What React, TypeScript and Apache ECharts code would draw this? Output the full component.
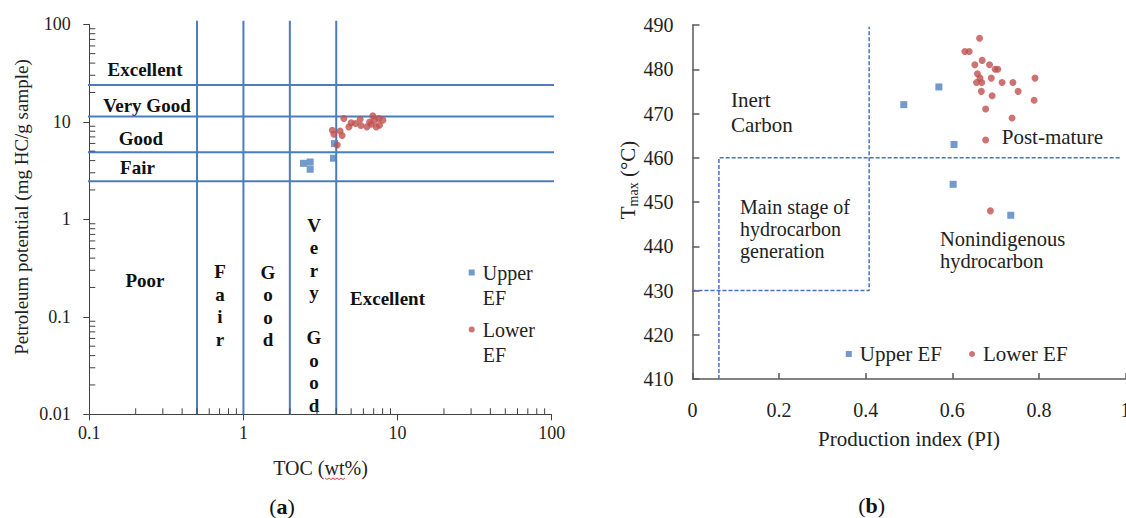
import React, { useEffect, useRef } from "react";
import * as echarts from "echarts";

// ---------- Panel (a): TOC vs petroleum potential ----------
const upperA: [number, number][] = [
  [2.45, 3.75], [2.71, 3.87], [2.71, 3.26], [3.84, 4.23], [3.9, 5.98],
];
const lowerA: [number, number][] = [
  [3.77, 8.2], [3.86, 7.46], [4.06, 5.79], [4.24, 8.05], [4.37, 7.22],
  [4.48, 10.8], [4.83, 8.87], [5.0, 9.75], [5.34, 9.6], [5.72, 10.6],
  [5.78, 9.16], [6.32, 8.87], [6.58, 9.97], [6.91, 11.5], [7.09, 10.4],
  [7.27, 8.87], [7.56, 10.8], [7.64, 9.23], [8.03, 10.4], [6.75, 9.45],
];
const potentialLevels = [2.45, 4.87, 11.3, 23.8];
const tocLevels = [0.5, 1, 2, 4];
const tocDecades = [0.1, 1, 10];
const potDecades = [0.01, 0.1, 1, 10];
const minorMultipliers = [2, 3, 4, 5, 6, 7, 8, 9];

// ---------- Panel (b): PI vs Tmax ----------
const upperB: [number, number][] = [
  [0.488, 472], [0.569, 476], [0.604, 463], [0.602, 454], [0.735, 447],
];
const lowerB: [number, number][] = [
  [0.663, 487], [0.629, 484], [0.639, 484], [0.669, 482], [0.652, 481],
  [0.686, 481], [0.699, 480], [0.705, 480], [0.658, 479], [0.664, 478],
  [0.69, 478], [0.791, 478], [0.656, 477], [0.668, 477], [0.715, 477],
  [0.74, 477], [0.667, 475], [0.752, 475], [0.692, 474], [0.789, 473],
  [0.677, 471], [0.738, 469], [0.677, 464], [0.688, 448],
];
const mainStageBox: [number, number][] = [[0, 430], [0.408, 430], [0.408, 489.6]];
const matureLine: [number, number][] = [[0.061, 410], [0.061, 460], [0.99, 460]];

const SERIF = "'Liberation Serif', 'Times New Roman', serif";
const BLUE = "#4f81bd";
const RED = "#c0504d";
const LINE_BLUE = "#4a7ebb";
const DASH_BLUE = "#4472c4";

const squareIcon = "path://M0,0L6,0L6,6L0,6Z M0,31L6,31L6,31.001L0,31.001Z";
const circleIcon = "path://M3,0A3,3,0,1,1,3,6A3,3,0,1,1,3,0Z M0,31L6,31L6,31.001L0,31.001Z";

function buildOption(): any {
  const xMinor: number[] = [];
  tocDecades.forEach((d) => minorMultipliers.forEach((m) => xMinor.push(d * m)));
  const yMinor: number[] = [];
  potDecades.forEach((d) => minorMultipliers.forEach((m) => yMinor.push(d * m)));

  const boldText = (x: number, y: number, text: string, lineHeight = 22.5) => ({
    type: "text",
    x,
    y,
    style: {
      text,
      fontFamily: SERIF,
      fontWeight: "bold",
      fontSize: 19,
      lineHeight,
      fill: "#111",
      align: "center",
      verticalAlign: "middle",
    },
  });
  const plainText = (x: number, y: number, text: string, lineHeight = 22, fontSize = 21) => ({
    type: "text",
    x,
    y,
    style: {
      text,
      fontFamily: SERIF,
      fontSize,
      lineHeight,
      fill: "#222",
      align: "left",
      verticalAlign: "middle",
    },
  });

  const series: any[] = [];
  potentialLevels.forEach((v) =>
    series.push({
      type: "line",
      xAxisIndex: 0,
      yAxisIndex: 0,
      data: [[0.098, v], [131, v]],
      symbol: "none",
      clip: false,
      silent: true,
      lineStyle: { color: LINE_BLUE, width: 2 },
      z: 1,
    })
  );
  tocLevels.forEach((v) =>
    series.push({
      type: "line",
      xAxisIndex: 0,
      yAxisIndex: 0,
      data: [[v, 0.01], [v, 109]],
      symbol: "none",
      clip: false,
      silent: true,
      lineStyle: { color: LINE_BLUE, width: 2 },
      z: 1,
    })
  );
  series.push({
    type: "custom",
    xAxisIndex: 0,
    yAxisIndex: 0,
    clip: false,
    silent: true,
    data: xMinor.map((v) => [v, 0.01]),
    renderItem: (_p: any, api: any) => {
      const p = api.coord([api.value(0), api.value(1)]);
      return {
        type: "line",
        shape: { x1: p[0], y1: p[1], x2: p[0], y2: p[1] - 6 },
        style: { stroke: "#404040", lineWidth: 1 },
      };
    },
  });
  series.push({
    type: "custom",
    xAxisIndex: 0,
    yAxisIndex: 0,
    clip: false,
    silent: true,
    data: yMinor.map((v) => [0.1, v]),
    renderItem: (_p: any, api: any) => {
      const p = api.coord([api.value(0), api.value(1)]);
      return {
        type: "line",
        shape: { x1: p[0], y1: p[1], x2: p[0] + 6, y2: p[1] },
        style: { stroke: "#404040", lineWidth: 1 },
      };
    },
  });
  series.push({
    name: "Upper EF",
    type: "scatter",
    xAxisIndex: 0,
    yAxisIndex: 0,
    symbol: "rect",
    symbolSize: 7,
    itemStyle: { color: BLUE },
    data: upperA,
    z: 3,
  });
  series.push({
    name: "Lower EF",
    type: "scatter",
    xAxisIndex: 0,
    yAxisIndex: 0,
    symbol: "circle",
    symbolSize: 7,
    itemStyle: { color: RED },
    data: lowerA,
    z: 3,
  });

  // panel b
  [mainStageBox, matureLine].forEach((d) =>
    series.push({
      type: "line",
      xAxisIndex: 1,
      yAxisIndex: 1,
      data: d,
      symbol: "none",
      clip: false,
      silent: true,
      lineStyle: { color: DASH_BLUE, width: 1.5, type: [4, 2] },
      z: 1,
    })
  );
  series.push({
    name: "Upper EF",
    type: "scatter",
    xAxisIndex: 1,
    yAxisIndex: 1,
    symbol: "rect",
    symbolSize: 7,
    itemStyle: { color: BLUE },
    data: upperB,
    z: 3,
  });
  series.push({
    name: "Lower EF",
    type: "scatter",
    xAxisIndex: 1,
    yAxisIndex: 1,
    symbol: "circle",
    symbolSize: 7,
    itemStyle: { color: RED },
    data: lowerB,
    z: 3,
  });

  const axisColA = "#404040";
  const axisColB = "#595959";

  return {
    animation: false,
    backgroundColor: "#ffffff",
    grid: [
      { left: 89.3, top: 24.3, width: 462.4, height: 390, outerBoundsMode: "none", containLabel: false },
      { left: 692.5, top: 25, width: 433, height: 354, outerBoundsMode: "none", containLabel: false },
    ],
    xAxis: [
      {
        type: "log",
        logBase: 10,
        gridIndex: 0,
        min: 0.1,
        max: 100,
        axisLine: { lineStyle: { color: axisColA, width: 1 } },
        axisTick: { show: true, length: 6, lineStyle: { color: axisColA } },
        axisLabel: { margin: 10, fontSize: 18, color: "#222", fontFamily: SERIF },
        splitLine: { show: false },
        name: "TOC (wt%)",
        nameLocation: "middle",
        nameGap: 44,
        nameTextStyle: { fontSize: 20, color: "#222", fontFamily: SERIF },
      },
      {
        type: "value",
        gridIndex: 1,
        min: 0,
        max: 1,
        interval: 0.2,
        axisLine: { lineStyle: { color: axisColB, width: 1.5 } },
        axisTick: { show: true, inside: true, length: 6, lineStyle: { color: axisColB, width: 1.5 } },
        axisLabel: { margin: 21, fontSize: 20, color: "#222", fontFamily: SERIF },
        splitLine: { show: false },
        name: "Production index (PI)",
        nameLocation: "middle",
        nameGap: 49,
        nameTextStyle: { fontSize: 21, color: "#222", fontFamily: SERIF },
      },
    ],
    yAxis: [
      {
        type: "log",
        logBase: 10,
        gridIndex: 0,
        min: 0.01,
        max: 100,
        axisLine: { lineStyle: { color: axisColA, width: 1 } },
        axisTick: { show: true, length: 6, lineStyle: { color: axisColA } },
        axisLabel: { margin: 18.6, fontSize: 18, color: "#222", fontFamily: SERIF },
        splitLine: { show: false },
      },
      {
        type: "value",
        gridIndex: 1,
        min: 410,
        max: 490,
        interval: 10,
        axisLine: { lineStyle: { color: axisColB, width: 1.5 } },
        axisTick: { show: true, inside: true, length: 7, lineStyle: { color: axisColB, width: 1.5 } },
        axisLabel: { margin: 19, fontSize: 20, color: "#222", fontFamily: SERIF },
        splitLine: { show: false },
      },
    ],
    legend: [
      {
        orient: "vertical",
        left: 468.7,
        top: 260,
        padding: 0,
        itemWidth: 6,
        itemHeight: 31,
        itemGap: 7,
        selectedMode: false,
        data: [
          { name: "Upper EF", icon: squareIcon },
          { name: "Lower EF", icon: circleIcon },
        ],
        formatter: (n: string) => n.replace(" ", "\n"),
        textStyle: { fontFamily: SERIF, fontSize: 20, lineHeight: 25, color: "#222", padding: [0, 0, 0, 3] },
      },
      {
        orient: "horizontal",
        left: 845.8,
        top: 343,
        padding: 0,
        itemWidth: 6,
        itemHeight: 6,
        itemGap: 27,
        selectedMode: false,
        data: [
          { name: "Upper EF", icon: "rect" },
          { name: "Lower EF", icon: "circle" },
        ],
        textStyle: { fontFamily: SERIF, fontSize: 21, lineHeight: 22, color: "#222", padding: [0, 0, 0, 3] },
      },
    ],
    graphic: [
      // panel a annotations
      boldText(145, 69, "Excellent"),
      boldText(147, 105, "Very Good"),
      boldText(141, 138, "Good"),
      boldText(137.5, 167, "Fair"),
      boldText(145, 280, "Poor"),
      boldText(220, 305.5, "F\na\ni\nr"),
      boldText(268, 306, "G\no\no\nd"),
      boldText(314, 315, "V\ne\nr\ny\n\nG\no\no\nd"),
      boldText(387.5, 298, "Excellent"),
      {
        type: "text",
        x: 21.7,
        y: 207,
        rotation: Math.PI / 2,
        style: {
          text: "Petroleum potential (mg HC/g sample)",
          fontFamily: SERIF,
          fontSize: 19,
          fill: "#222",
          align: "center",
          verticalAlign: "middle",
        },
      },
      {
        type: "polyline",
        shape: {
          points: [
            [325, 478], [327, 479.5], [329, 478], [331, 479.5], [333, 478], [335, 479.5],
            [337, 478], [339, 479.5], [341, 478], [343, 479.5], [345, 478],
          ],
        },
        style: { stroke: "#e04040", lineWidth: 1, fill: "none" },
        silent: true,
      },
      {
        type: "text",
        x: 282,
        y: 506,
        style: {
          text: "({b|a})",
          fontFamily: SERIF,
          fontSize: 22,
          fill: "#111",
          align: "center",
          verticalAlign: "middle",
          rich: { b: { fontFamily: SERIF, fontSize: 22, fontWeight: "bold", fill: "#111" } },
        },
      },
      // panel b annotations
      plainText(731, 112.5, "Inert\nCarbon", 25),
      plainText(740, 229, "Main stage of\nhydrocarbon\ngeneration", 22, 20),
      plainText(1001.7, 137.3, "Post-mature"),
      plainText(940, 250, "Nonindigenous\nhydrocarbon", 22, 20.5),
      {
        type: "text",
        x: 628,
        y: 180,
        rotation: Math.PI / 2,
        style: {
          text: "{t|T}{s|max}{t| (°C)}",
          fontFamily: SERIF,
          fill: "#222",
          align: "center",
          verticalAlign: "middle",
          rich: {
            t: { fontFamily: SERIF, fontSize: 21, fill: "#222", lineHeight: 24, verticalAlign: "middle" },
            s: { fontFamily: SERIF, fontSize: 14, fill: "#222", lineHeight: 24, verticalAlign: "bottom", padding: [8, 0, 0, 0] },
          },
        },
      },
      {
        type: "text",
        x: 871.7,
        y: 505,
        style: {
          text: "({b|b})",
          fontFamily: SERIF,
          fontSize: 22,
          fill: "#111",
          align: "center",
          verticalAlign: "middle",
          rich: { b: { fontFamily: SERIF, fontSize: 22, fontWeight: "bold", fill: "#111" } },
        },
      },
    ],
    series,
  };
}

export default function App() {
  const ref = useRef<HTMLDivElement>(null);
  useEffect(() => {
    if (!ref.current) return;
    const chart = echarts.init(ref.current, undefined, { renderer: "svg" });
    chart.setOption(buildOption());
    return () => chart.dispose();
  }, []);
  return (
    <div
      ref={ref}
      style={{ position: "absolute", left: 0, top: 0, width: 1126, height: 518, background: "#fff" }}
    />
  );
}
